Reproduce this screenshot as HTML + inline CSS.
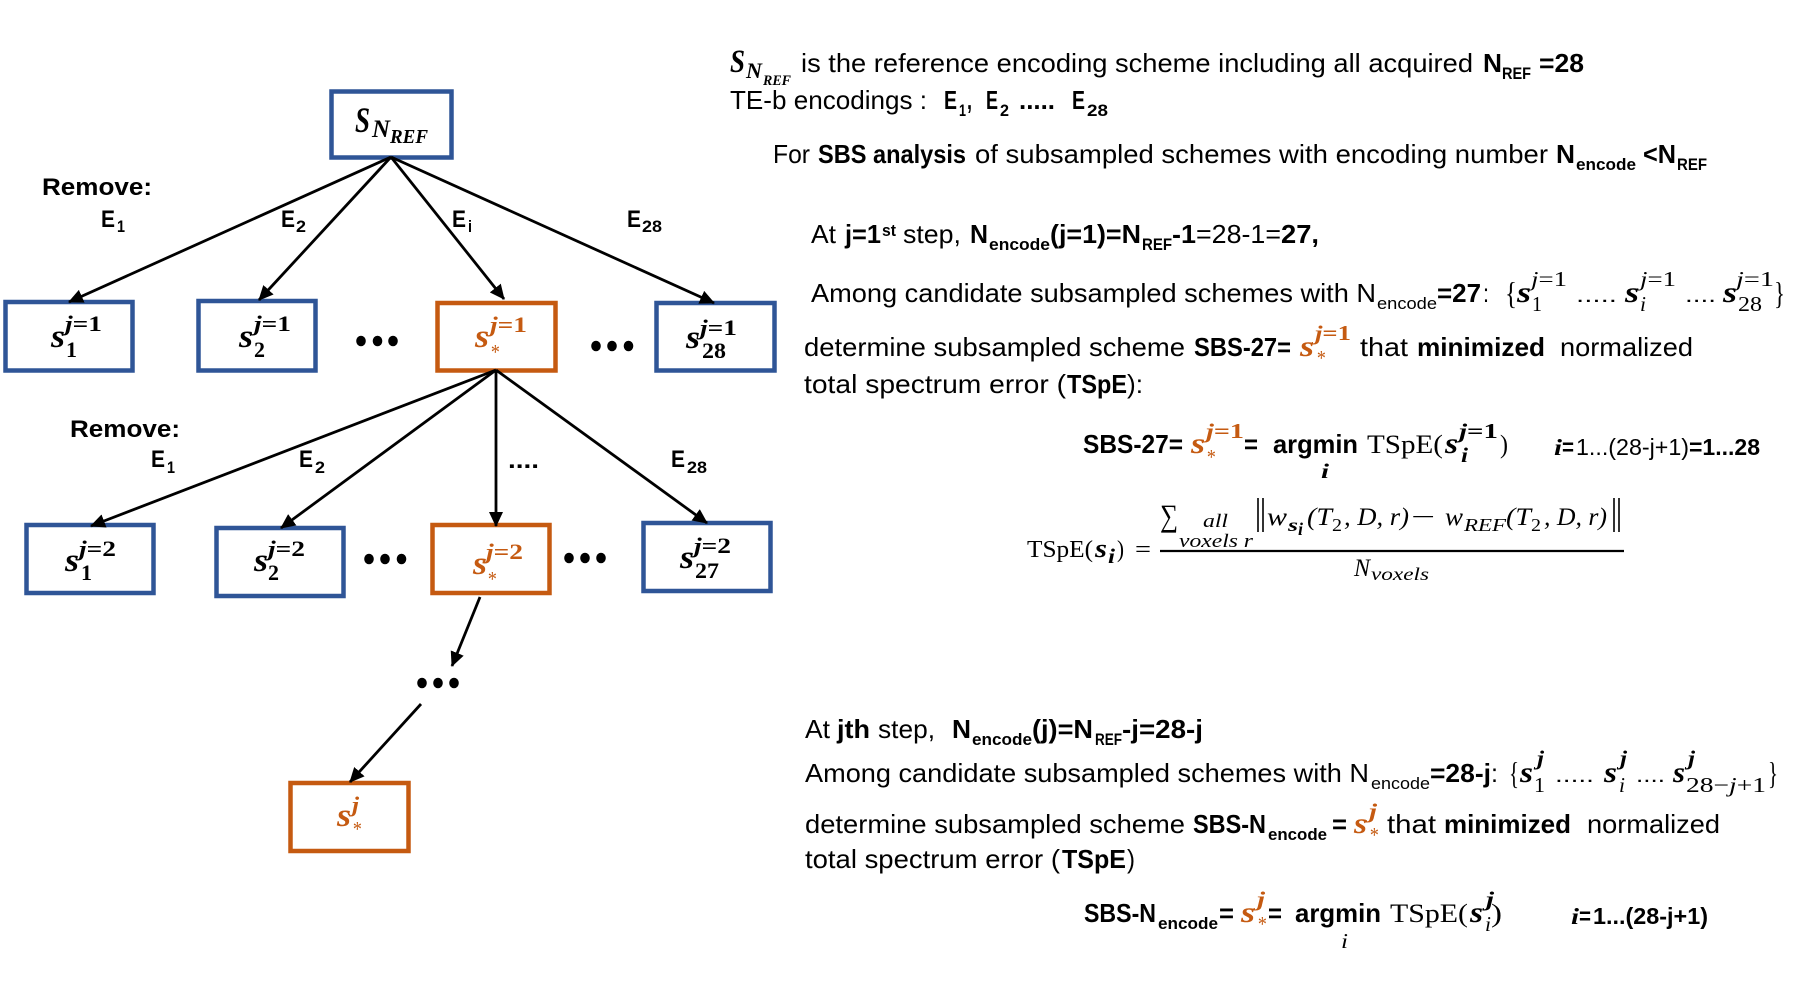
<!DOCTYPE html>
<html><head><meta charset="utf-8"><title>SBS diagram</title>
<style>
html,body{margin:0;padding:0;background:#fff}
svg{display:block}
.f{font-family:"Liberation Sans",sans-serif}
.g{font-family:"Liberation Sans",sans-serif;font-weight:700}
.m{font-family:"Liberation Serif",serif;font-weight:700;font-style:italic}
.n{font-family:"Liberation Serif",serif;font-style:italic;font-weight:400}
.t{font-family:"Liberation Serif",serif}
.u{font-family:"Liberation Serif",serif;font-weight:700;font-style:normal}
text{fill:#000}
text.o,.o{fill:#C55A11}
</style></head><body>
<svg width="1793" height="985" viewBox="0 0 1793 985" xmlns="http://www.w3.org/2000/svg">
<defs><marker id="a" markerUnits="userSpaceOnUse" markerWidth="16" markerHeight="14" refX="14" refY="7" orient="auto"><path d="M0 0L15 7L0 14Z" fill="#000"/></marker></defs>
<rect width="1793" height="985" fill="#fff"/>

<!-- boxes -->
<g fill="#fff" stroke="#2F5597" stroke-width="4.5">
<rect x="331.5" y="91.5" width="120" height="66"/>
<rect x="5.5" y="302" width="127" height="68.5"/>
<rect x="198.5" y="301" width="117" height="69.5"/>
<rect x="656.5" y="303" width="118" height="67.5"/>
<rect x="26.5" y="525" width="127" height="68"/>
<rect x="216.5" y="528" width="127" height="68"/>
<rect x="643.5" y="523" width="127" height="68"/>
</g>
<g fill="#fff" stroke="#C55A11" stroke-width="4.5">
<rect x="437.5" y="303" width="118" height="67.5"/>
<rect x="432.5" y="525" width="117" height="68"/>
<rect x="290.5" y="783" width="118" height="68"/>
</g>

<!-- connectors -->
<g stroke="#000" stroke-width="2.8" fill="none">
<line x1="391" y1="157" x2="69" y2="302" marker-end="url(#a)"/>
<line x1="391" y1="157" x2="259" y2="300" marker-end="url(#a)"/>
<line x1="391" y1="157" x2="504" y2="299" marker-end="url(#a)"/>
<line x1="391" y1="157" x2="714" y2="303" marker-end="url(#a)"/>
<line x1="496" y1="370" x2="91" y2="526" marker-end="url(#a)"/>
<line x1="496" y1="370" x2="281" y2="528" marker-end="url(#a)"/>
<line x1="496" y1="370" x2="496" y2="526" marker-end="url(#a)"/>
<line x1="496" y1="370" x2="707" y2="523" marker-end="url(#a)"/>
<line x1="480" y1="597" x2="452" y2="666" marker-end="url(#a)"/>
<line x1="421" y1="704" x2="350" y2="782" marker-end="url(#a)"/>
</g>

<!-- dots -->
<g fill="#000">
<ellipse cx="361" cy="341" rx="4.8" ry="5.3"/><ellipse cx="377.5" cy="341" rx="4.8" ry="5.3"/><ellipse cx="393" cy="341" rx="4.8" ry="5.3"/>
<ellipse cx="596" cy="346" rx="4.8" ry="5.3"/><ellipse cx="612" cy="346" rx="4.8" ry="5.3"/><ellipse cx="628.5" cy="346" rx="4.8" ry="5.3"/>
<ellipse cx="369" cy="559" rx="4.8" ry="5.3"/><ellipse cx="385" cy="559" rx="4.8" ry="5.3"/><ellipse cx="401.5" cy="559" rx="4.8" ry="5.3"/>
<ellipse cx="569" cy="558" rx="4.8" ry="5.3"/><ellipse cx="585" cy="558" rx="4.8" ry="5.3"/><ellipse cx="601" cy="558" rx="4.8" ry="5.3"/>
<ellipse cx="422" cy="683" rx="4.8" ry="5.3"/><ellipse cx="438" cy="683" rx="4.8" ry="5.3"/><ellipse cx="454" cy="683" rx="4.8" ry="5.3"/>
</g>

<!-- edge labels -->
<g font-size="24.5">
<text class="g" x="42" y="195" textLength="110" lengthAdjust="spacingAndGlyphs">Remove:</text>
<text class="g" x="101" y="227" textLength="14" lengthAdjust="spacingAndGlyphs">E</text>
<text class="g" x="281" y="227" textLength="14" lengthAdjust="spacingAndGlyphs">E</text>
<text class="g" x="452" y="227" textLength="14" lengthAdjust="spacingAndGlyphs">E</text>
<text class="g" x="627" y="227" textLength="14" lengthAdjust="spacingAndGlyphs">E</text>
<text class="g" x="70" y="437" textLength="110" lengthAdjust="spacingAndGlyphs">Remove:</text>
<text class="g" x="151" y="467" textLength="14" lengthAdjust="spacingAndGlyphs">E</text>
<text class="g" x="299" y="467" textLength="14" lengthAdjust="spacingAndGlyphs">E</text>
<text class="g" x="671" y="467" textLength="14" lengthAdjust="spacingAndGlyphs">E</text>
<text class="g" x="508" y="468" textLength="31" lengthAdjust="spacingAndGlyphs">....</text>
</g>
<g font-size="17">
<text class="g" x="117" y="232" textLength="8" lengthAdjust="spacingAndGlyphs">1</text>
<text class="g" x="296" y="232" textLength="10" lengthAdjust="spacingAndGlyphs">2</text>
<text class="g" x="468" y="232" textLength="4" lengthAdjust="spacingAndGlyphs">i</text>
<text class="g" x="642" y="232" textLength="20" lengthAdjust="spacingAndGlyphs">28</text>
<text class="g" x="167" y="473" textLength="8" lengthAdjust="spacingAndGlyphs">1</text>
<text class="g" x="315" y="473" textLength="10" lengthAdjust="spacingAndGlyphs">2</text>
<text class="g" x="687" y="473" textLength="20" lengthAdjust="spacingAndGlyphs">28</text>
</g>

<!-- node labels -->
<text class="m" font-size="36" x="355" y="132" textLength="15" lengthAdjust="spacingAndGlyphs">S</text>
<text class="m" font-size="25" x="372" y="137" textLength="18" lengthAdjust="spacingAndGlyphs">N</text>
<text class="m" font-size="20" x="390" y="143" textLength="38" lengthAdjust="spacingAndGlyphs">REF</text>

<g font-size="33">
<text class="m" x="51" y="347" textLength="14" lengthAdjust="spacingAndGlyphs">s</text>
<text class="m" x="239" y="347" textLength="14" lengthAdjust="spacingAndGlyphs">s</text>
<text class="m o" x="475" y="347" textLength="14" lengthAdjust="spacingAndGlyphs">s</text>
<text class="m" x="686" y="348" textLength="14" lengthAdjust="spacingAndGlyphs">s</text>
<text class="m" x="65" y="571" textLength="14" lengthAdjust="spacingAndGlyphs">s</text>
<text class="m" x="254" y="571" textLength="14" lengthAdjust="spacingAndGlyphs">s</text>
<text class="m o" x="473" y="574" textLength="14" lengthAdjust="spacingAndGlyphs">s</text>
<text class="m" x="680" y="568" textLength="14" lengthAdjust="spacingAndGlyphs">s</text>
<text class="m o" x="337" y="826" textLength="14" lengthAdjust="spacingAndGlyphs">s</text>
</g>
<g font-size="22">
<text class="m" x="65" y="331" textLength="37" lengthAdjust="spacingAndGlyphs">j<tspan class="u">=1</tspan></text>
<text class="m" x="254" y="331" textLength="37" lengthAdjust="spacingAndGlyphs">j<tspan class="u">=1</tspan></text>
<text class="m o" x="490" y="332" textLength="37" lengthAdjust="spacingAndGlyphs">j<tspan class="u">=1</tspan></text>
<text class="m" x="700" y="335" textLength="37" lengthAdjust="spacingAndGlyphs">j<tspan class="u">=1</tspan></text>
<text class="u" x="66" y="357" textLength="11" lengthAdjust="spacingAndGlyphs">1</text>
<text class="u" x="254" y="357" textLength="11" lengthAdjust="spacingAndGlyphs">2</text>
<text class="u" x="702" y="358" textLength="24" lengthAdjust="spacingAndGlyphs">28</text>
<text class="m" x="79" y="556" textLength="37" lengthAdjust="spacingAndGlyphs">j<tspan class="u">=2</tspan></text>
<text class="m" x="268" y="556" textLength="37" lengthAdjust="spacingAndGlyphs">j<tspan class="u">=2</tspan></text>
<text class="m o" x="486" y="559" textLength="37" lengthAdjust="spacingAndGlyphs">j<tspan class="u">=2</tspan></text>
<text class="m" x="694" y="553" textLength="37" lengthAdjust="spacingAndGlyphs">j<tspan class="u">=2</tspan></text>
<text class="u" x="81" y="580" textLength="11" lengthAdjust="spacingAndGlyphs">1</text>
<text class="u" x="268" y="580" textLength="11" lengthAdjust="spacingAndGlyphs">2</text>
<text class="u" x="695" y="578" textLength="24" lengthAdjust="spacingAndGlyphs">27</text>
<text class="m o" x="352" y="812" textLength="7" lengthAdjust="spacingAndGlyphs">j</text>
</g>
<g font-size="21">
<text class="n o" x="490" y="359" textLength="9" lengthAdjust="spacingAndGlyphs">*</text>
<text class="n o" x="487" y="586" textLength="9" lengthAdjust="spacingAndGlyphs">*</text>
<text class="n o" x="352" y="836" textLength="9" lengthAdjust="spacingAndGlyphs">*</text>
</g>

<!-- paragraph 1 -->
<text class="m" font-size="33" x="730" y="72" textLength="15" lengthAdjust="spacingAndGlyphs">S</text>
<text class="m" font-size="22" x="746" y="78" textLength="16" lengthAdjust="spacingAndGlyphs">N</text>
<text class="m" font-size="15" x="763" y="85" textLength="28" lengthAdjust="spacingAndGlyphs">REF</text>
<g font-size="26">
<text class="f" x="801" y="72" textLength="672" lengthAdjust="spacingAndGlyphs">is the reference encoding scheme including all acquired</text>
<text class="g" x="1483" y="72" textLength="19" lengthAdjust="spacingAndGlyphs">N</text>
<text class="g" x="1539" y="72" textLength="45" lengthAdjust="spacingAndGlyphs">=28</text>
<text class="f" x="730" y="109" textLength="197" lengthAdjust="spacingAndGlyphs">TE-b encodings :</text>
<text class="g" x="944" y="109" textLength="13" lengthAdjust="spacingAndGlyphs">E</text>
<text class="g" x="967" y="109" textLength="5" lengthAdjust="spacingAndGlyphs">,</text>
<text class="g" x="986" y="109" textLength="12" lengthAdjust="spacingAndGlyphs">E</text>
<text class="g" x="1019" y="109" textLength="36" lengthAdjust="spacingAndGlyphs">.....</text>
<text class="g" x="1072" y="109" textLength="13" lengthAdjust="spacingAndGlyphs">E</text>
<text class="f" x="773" y="163" textLength="37" lengthAdjust="spacingAndGlyphs">For</text>
<text class="g" x="818" y="163" textLength="148" lengthAdjust="spacingAndGlyphs">SBS analysis</text>
<text class="f" x="975" y="163" textLength="573" lengthAdjust="spacingAndGlyphs">of subsampled schemes with encoding number</text>
<text class="g" x="1556" y="163" textLength="19" lengthAdjust="spacingAndGlyphs">N</text>
<text class="g" x="1643" y="163" textLength="33" lengthAdjust="spacingAndGlyphs">&lt;N</text>
</g>
<g font-size="17">
<text class="g" x="1502" y="79" textLength="29" lengthAdjust="spacingAndGlyphs">REF</text>
<text class="g" x="959" y="116" textLength="7" lengthAdjust="spacingAndGlyphs">1</text>
<text class="g" x="1000" y="116" textLength="9" lengthAdjust="spacingAndGlyphs">2</text>
<text class="g" x="1087" y="116" textLength="21" lengthAdjust="spacingAndGlyphs">28</text>
<text class="g" x="1576" y="170" textLength="60" lengthAdjust="spacingAndGlyphs">encode</text>
<text class="g" x="1677" y="170" textLength="30" lengthAdjust="spacingAndGlyphs">REF</text>
</g>

<!-- step 1 -->
<g font-size="26">
<text class="f" x="811" y="243" textLength="25" lengthAdjust="spacingAndGlyphs">At</text>
<text class="g" x="845" y="243" textLength="36" lengthAdjust="spacingAndGlyphs">j=1</text>
<text class="f" x="903" y="243" textLength="58" lengthAdjust="spacingAndGlyphs">step,</text>
<text class="g" x="970" y="243" textLength="18" lengthAdjust="spacingAndGlyphs">N</text>
<text class="g" x="1050" y="243" textLength="91" lengthAdjust="spacingAndGlyphs">(j=1)=N</text>
<text class="g" x="1172" y="243" textLength="24" lengthAdjust="spacingAndGlyphs">-1</text>
<text class="f" x="1196" y="243" textLength="85" lengthAdjust="spacingAndGlyphs">=28-1=</text>
<text class="g" x="1281" y="243" textLength="38" lengthAdjust="spacingAndGlyphs">27,</text>
<text class="f" x="811" y="302" textLength="565" lengthAdjust="spacingAndGlyphs">Among candidate subsampled schemes with N</text>
<text class="g" x="1437" y="302" textLength="44" lengthAdjust="spacingAndGlyphs">=27</text>
<text class="f" x="1483" y="302" textLength="6" lengthAdjust="spacingAndGlyphs">:</text>
<text class="f" x="804" y="356" textLength="381" lengthAdjust="spacingAndGlyphs">determine subsampled scheme</text>
<text class="g" x="1194" y="356" textLength="97" lengthAdjust="spacingAndGlyphs">SBS-27=</text>
<text class="f" x="1360" y="356" textLength="48" lengthAdjust="spacingAndGlyphs">that</text>
<text class="g" x="1417" y="356" textLength="128" lengthAdjust="spacingAndGlyphs">minimized</text>
<text class="f" x="1560" y="356" textLength="133" lengthAdjust="spacingAndGlyphs">normalized</text>
<text class="f" x="804" y="393" textLength="262" lengthAdjust="spacingAndGlyphs">total spectrum error (</text>
<text class="g" x="1067" y="393" textLength="60" lengthAdjust="spacingAndGlyphs">TSpE</text>
<text class="f" x="1127" y="393" textLength="16" lengthAdjust="spacingAndGlyphs">):</text>
</g>
<g font-size="17">
<text class="g" x="882" y="236" textLength="14" lengthAdjust="spacingAndGlyphs">st</text>
<text class="g" x="989" y="250" textLength="61" lengthAdjust="spacingAndGlyphs">encode</text>
<text class="g" x="1142" y="250" textLength="30" lengthAdjust="spacingAndGlyphs">REF</text>
<text class="f" x="1377" y="309" textLength="60" lengthAdjust="spacingAndGlyphs">encode</text>
</g>
<text class="t" font-size="32" x="1505" y="304" textLength="12" lengthAdjust="spacingAndGlyphs">{</text>
<text class="t" font-size="32" x="1774" y="304" textLength="11" lengthAdjust="spacingAndGlyphs">}</text>
<g font-size="30">
<text class="m" x="1517" y="302" textLength="14" lengthAdjust="spacingAndGlyphs">s</text>
<text class="m" x="1625" y="302" textLength="14" lengthAdjust="spacingAndGlyphs">s</text>
<text class="m" x="1723" y="302" textLength="14" lengthAdjust="spacingAndGlyphs">s</text>
<text class="m o" x="1300" y="356" textLength="14" lengthAdjust="spacingAndGlyphs">s</text>
</g>
<g font-size="21">
<text class="t" x="1531" y="286" textLength="36" lengthAdjust="spacingAndGlyphs"><tspan class="n">j</tspan>=1</text>
<text class="t" x="1640" y="286" textLength="36" lengthAdjust="spacingAndGlyphs"><tspan class="n">j</tspan>=1</text>
<text class="t" x="1736" y="286" textLength="38" lengthAdjust="spacingAndGlyphs"><tspan class="n">j</tspan>=1</text>
<text class="t" x="1532" y="311" textLength="10" lengthAdjust="spacingAndGlyphs">1</text>
<text class="n" x="1640" y="311" textLength="6" lengthAdjust="spacingAndGlyphs">i</text>
<text class="t" x="1738" y="311" textLength="24" lengthAdjust="spacingAndGlyphs">28</text>
<text class="m o" x="1315" y="340" textLength="36" lengthAdjust="spacingAndGlyphs">j<tspan class="u">=1</tspan></text>
<text class="n o" x="1316" y="365" textLength="9" lengthAdjust="spacingAndGlyphs">*</text>
<text class="f" x="1576" y="302" textLength="41" lengthAdjust="spacingAndGlyphs">.....</text>
<text class="f" x="1685" y="302" textLength="31" lengthAdjust="spacingAndGlyphs">....</text>
</g>

<!-- equations -->
<g font-size="26">
<text class="g" x="1083" y="453" textLength="100" lengthAdjust="spacingAndGlyphs">SBS-27=</text>
<text class="g" x="1244" y="453" textLength="14" lengthAdjust="spacingAndGlyphs">=</text>
<text class="g" x="1273" y="453" textLength="85" lengthAdjust="spacingAndGlyphs">argmin</text>
<text class="t" x="1367" y="453" textLength="76" lengthAdjust="spacingAndGlyphs">TSpE(</text>
<text class="t" x="1500" y="453" textLength="8" lengthAdjust="spacingAndGlyphs">)</text>
</g>
<g font-size="24">
<text class="t" x="1027" y="557" textLength="66" lengthAdjust="spacingAndGlyphs">TSpE(</text>
<text class="t" x="1117" y="557" textLength="7" lengthAdjust="spacingAndGlyphs">)</text>
<text class="t" x="1135" y="557" textLength="16" lengthAdjust="spacingAndGlyphs">=</text>
</g>
<g font-size="30">
<text class="m o" x="1191" y="453" textLength="14" lengthAdjust="spacingAndGlyphs">s</text>
<text class="m" x="1445" y="453" textLength="13" lengthAdjust="spacingAndGlyphs">s</text>
</g>
<text class="m" font-size="26" x="1095" y="557" textLength="12" lengthAdjust="spacingAndGlyphs">s</text>
<g font-size="21">
<text class="m o" x="1206" y="438" textLength="38" lengthAdjust="spacingAndGlyphs">j<tspan class="u">=1</tspan></text>
<text class="n o" x="1206" y="464" textLength="9" lengthAdjust="spacingAndGlyphs">*</text>
<text class="m" x="1459" y="438" textLength="39" lengthAdjust="spacingAndGlyphs">j<tspan class="u">=1</tspan></text>
<text class="m" x="1461" y="462" textLength="7" lengthAdjust="spacingAndGlyphs">i</text>
<text class="m" x="1321" y="478" textLength="8" lengthAdjust="spacingAndGlyphs">i</text>
<text class="m" x="1108" y="563" textLength="7" lengthAdjust="spacingAndGlyphs">i</text>
</g>
<g font-size="23">
<text class="m" x="1554" y="455" textLength="8" lengthAdjust="spacingAndGlyphs">i</text>
<text class="g" x="1562" y="455" textLength="12" lengthAdjust="spacingAndGlyphs">=</text>
<text class="f" x="1576" y="455" textLength="113" lengthAdjust="spacingAndGlyphs">1...(28-j+1)</text>
<text class="g" x="1689" y="455" textLength="71" lengthAdjust="spacingAndGlyphs">=1...28</text>
</g>

<line x1="1160" y1="551" x2="1624" y2="551" stroke="#000" stroke-width="2.2"/>
<text class="t" font-size="31" x="1160" y="526" textLength="18" lengthAdjust="spacingAndGlyphs">∑</text>
<g font-size="19">
<text class="n" x="1203" y="527" textLength="25" lengthAdjust="spacingAndGlyphs">all</text>
<text class="n" x="1179" y="547" textLength="74" lengthAdjust="spacingAndGlyphs">voxels r</text>
</g>
<g font-size="25">
<text class="n" x="1267" y="525" textLength="20" lengthAdjust="spacingAndGlyphs">w</text>
<text class="n" x="1307" y="525" textLength="25" lengthAdjust="spacingAndGlyphs">(T</text>
<text class="n" x="1344" y="525" textLength="65" lengthAdjust="spacingAndGlyphs">, D, r)</text>
<text class="t" x="1411" y="525" textLength="24" lengthAdjust="spacingAndGlyphs">−</text>
<text class="n" x="1445" y="525" textLength="18" lengthAdjust="spacingAndGlyphs">w</text>
<text class="n" x="1506" y="525" textLength="25" lengthAdjust="spacingAndGlyphs">(T</text>
<text class="n" x="1544" y="525" textLength="63" lengthAdjust="spacingAndGlyphs">, D, r)</text>
<text class="n" x="1354" y="576" textLength="16" lengthAdjust="spacingAndGlyphs">N</text>
</g>
<g font-size="18">
<text class="m" x="1288" y="531" textLength="10" lengthAdjust="spacingAndGlyphs">s</text>
<text class="m" x="1298" y="535" textLength="5" lengthAdjust="spacingAndGlyphs">i</text>
<text class="t" x="1332" y="531" textLength="10" lengthAdjust="spacingAndGlyphs">2</text>
<text class="n" x="1464" y="531" textLength="42" lengthAdjust="spacingAndGlyphs">REF</text>
<text class="t" x="1531" y="531" textLength="10" lengthAdjust="spacingAndGlyphs">2</text>
<text class="n" x="1371" y="580" textLength="58" lengthAdjust="spacingAndGlyphs">voxels</text>
</g>
<g stroke="#000" stroke-width="1.6">
<line x1="1258" y1="498" x2="1258" y2="532"/><line x1="1263" y1="498" x2="1263" y2="532"/>
<line x1="1614" y1="498" x2="1614" y2="532"/><line x1="1619" y1="498" x2="1619" y2="532"/>
</g>

<!-- step j -->
<g font-size="26">
<text class="f" x="805" y="738" textLength="25" lengthAdjust="spacingAndGlyphs">At</text>
<text class="g" x="837" y="738" textLength="33" lengthAdjust="spacingAndGlyphs">jth</text>
<text class="f" x="878" y="738" textLength="57" lengthAdjust="spacingAndGlyphs">step,</text>
<text class="g" x="952" y="738" textLength="19" lengthAdjust="spacingAndGlyphs">N</text>
<text class="g" x="1032" y="738" textLength="61" lengthAdjust="spacingAndGlyphs">(j)=N</text>
<text class="g" x="1122" y="738" textLength="81" lengthAdjust="spacingAndGlyphs">-j=28-j</text>
<text class="f" x="805" y="782" textLength="564" lengthAdjust="spacingAndGlyphs">Among candidate subsampled schemes with N</text>
<text class="g" x="1430" y="782" textLength="61" lengthAdjust="spacingAndGlyphs">=28-j</text>
<text class="f" x="1491" y="782" textLength="7" lengthAdjust="spacingAndGlyphs">:</text>
<text class="f" x="805" y="833" textLength="380" lengthAdjust="spacingAndGlyphs">determine subsampled scheme</text>
<text class="g" x="1193" y="833" textLength="73" lengthAdjust="spacingAndGlyphs">SBS-N</text>
<text class="g" x="1332" y="833" textLength="15" lengthAdjust="spacingAndGlyphs">=</text>
<text class="f" x="1387" y="833" textLength="49" lengthAdjust="spacingAndGlyphs">that</text>
<text class="g" x="1444" y="833" textLength="127" lengthAdjust="spacingAndGlyphs">minimized</text>
<text class="f" x="1587" y="833" textLength="133" lengthAdjust="spacingAndGlyphs">normalized</text>
<text class="f" x="805" y="868" textLength="255" lengthAdjust="spacingAndGlyphs">total spectrum error (</text>
<text class="g" x="1062" y="868" textLength="64" lengthAdjust="spacingAndGlyphs">TSpE</text>
<text class="f" x="1127" y="868" textLength="8" lengthAdjust="spacingAndGlyphs">)</text>
<text class="g" x="1084" y="922" textLength="72" lengthAdjust="spacingAndGlyphs">SBS-N</text>
<text class="g" x="1219" y="922" textLength="15" lengthAdjust="spacingAndGlyphs">=</text>
<text class="g" x="1268" y="922" textLength="14" lengthAdjust="spacingAndGlyphs">=</text>
<text class="g" x="1295" y="922" textLength="86" lengthAdjust="spacingAndGlyphs">argmin</text>
<text class="t" x="1390" y="922" textLength="78" lengthAdjust="spacingAndGlyphs">TSpE(</text>
<text class="t" x="1491" y="922" textLength="11" lengthAdjust="spacingAndGlyphs">)</text>
</g>
<g font-size="17">
<text class="g" x="972" y="745" textLength="60" lengthAdjust="spacingAndGlyphs">encode</text>
<text class="g" x="1095" y="745" textLength="27" lengthAdjust="spacingAndGlyphs">REF</text>
<text class="f" x="1371" y="789" textLength="59" lengthAdjust="spacingAndGlyphs">encode</text>
<text class="g" x="1268" y="840" textLength="59" lengthAdjust="spacingAndGlyphs">encode</text>
<text class="g" x="1158" y="929" textLength="60" lengthAdjust="spacingAndGlyphs">encode</text>
</g>
<text class="t" font-size="32" x="1509" y="784" textLength="10" lengthAdjust="spacingAndGlyphs">{</text>
<text class="t" font-size="32" x="1768" y="784" textLength="10" lengthAdjust="spacingAndGlyphs">}</text>
<g font-size="30">
<text class="m" x="1520" y="782" textLength="13" lengthAdjust="spacingAndGlyphs">s</text>
<text class="m" x="1604" y="782" textLength="13" lengthAdjust="spacingAndGlyphs">s</text>
<text class="m" x="1673" y="782" textLength="12" lengthAdjust="spacingAndGlyphs">s</text>
<text class="m o" x="1354" y="833" textLength="13" lengthAdjust="spacingAndGlyphs">s</text>
<text class="m o" x="1241" y="922" textLength="14" lengthAdjust="spacingAndGlyphs">s</text>
<text class="m" x="1470" y="922" textLength="13" lengthAdjust="spacingAndGlyphs">s</text>
</g>
<g font-size="21">
<text class="m" x="1537" y="765" textLength="7" lengthAdjust="spacingAndGlyphs">j</text>
<text class="t" x="1534" y="792" textLength="11" lengthAdjust="spacingAndGlyphs">1</text>
<text class="f" x="1555" y="782" textLength="39" lengthAdjust="spacingAndGlyphs">.....</text>
<text class="m" x="1620" y="765" textLength="7" lengthAdjust="spacingAndGlyphs">j</text>
<text class="n" x="1619" y="792" textLength="6" lengthAdjust="spacingAndGlyphs">i</text>
<text class="f" x="1636" y="782" textLength="29" lengthAdjust="spacingAndGlyphs">....</text>
<text class="m" x="1688" y="765" textLength="7" lengthAdjust="spacingAndGlyphs">j</text>
<text class="t" x="1686" y="792" textLength="80" lengthAdjust="spacingAndGlyphs">28−<tspan class="n">j</tspan>+1</text>
<text class="m o" x="1369" y="818" textLength="8" lengthAdjust="spacingAndGlyphs">j</text>
<text class="n o" x="1369" y="842" textLength="9" lengthAdjust="spacingAndGlyphs">*</text>
<text class="m o" x="1257" y="906" textLength="8" lengthAdjust="spacingAndGlyphs">j</text>
<text class="n o" x="1257" y="931" textLength="9" lengthAdjust="spacingAndGlyphs">*</text>
<text class="m" x="1486" y="906" textLength="8" lengthAdjust="spacingAndGlyphs">j</text>
<text class="n" x="1485" y="931" textLength="6" lengthAdjust="spacingAndGlyphs">i</text>
<text class="n" x="1341" y="948" textLength="7" lengthAdjust="spacingAndGlyphs">i</text>
</g>
<g font-size="23">
<text class="m" x="1571" y="924" textLength="8" lengthAdjust="spacingAndGlyphs">i</text>
<text class="g" x="1579" y="924" textLength="12" lengthAdjust="spacingAndGlyphs">=</text>
<text class="g" x="1593" y="924" textLength="115" lengthAdjust="spacingAndGlyphs">1...(28-j+1)</text>
</g>
</svg>
</body></html>
